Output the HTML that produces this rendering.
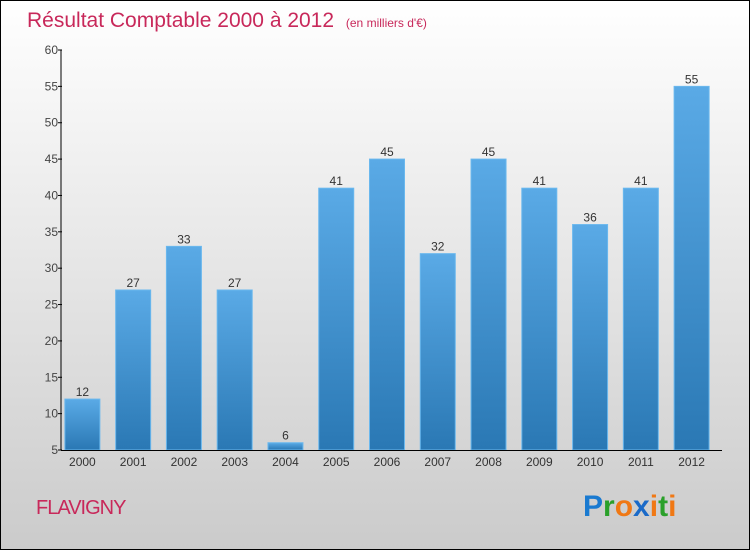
<!DOCTYPE html>
<html><head><meta charset="utf-8">
<style>
html,body{margin:0;padding:0}
body{width:750px;height:550px;overflow:hidden;font-family:"Liberation Sans",sans-serif}
</style></head>
<body>
<svg id="chart" width="750" height="550" xmlns="http://www.w3.org/2000/svg">
<defs>
<linearGradient id="bg" x1="0" y1="0" x2="0" y2="1">
<stop offset="0" stop-color="#ffffff"/><stop offset="1" stop-color="#cbcbcb"/>
</linearGradient>
<linearGradient id="bar" x1="0" y1="0" x2="0" y2="1">
<stop offset="0" stop-color="#5aaae6"/><stop offset="1" stop-color="#2a78b4"/>
</linearGradient>
</defs>
<rect x="0.5" y="0.5" width="749" height="549" fill="url(#bg)" stroke="#000" stroke-width="1"/>
<text x="27" y="27" font-size="21" fill="#c8285a">Résultat Comptable 2000 à 2012 <tspan font-size="12" dx="6">(en milliers d'€)</tspan></text>
<g id="yaxis"></g>
<g id="bars"></g>
<g id="xaxis"></g>
<text x="36" y="514" font-size="20" fill="#c8285a" letter-spacing="-1">FLAVIGNY</text>
<g font-size="30" font-weight="bold" font-family="Liberation Sans, sans-serif">
<text x="583" y="516"><tspan fill="#1a7ad0">P</tspan><tspan fill="#2aa02a">r</tspan><tspan fill="#f07814">o</tspan><tspan fill="#1a6ac8">x</tspan><tspan fill="#f07814">i</tspan><tspan fill="#2aa02a">t</tspan><tspan fill="#f07814">i</tspan></text>
</g>
</svg>
<script>
const categories=["2000","2001","2002","2003","2004","2005","2006","2007","2008","2009","2010","2011","2012"];
const values=[12,27,33,27,6,41,45,32,45,41,36,41,55];
const yTicks=[5,10,15,20,25,30,35,40,45,50,55,60];
const NS="http://www.w3.org/2000/svg";
const x0=62,x1=722,yBase=450,yTop=50,vMin=5,vMax=60;
function y(v){return yBase-(v-vMin)/(vMax-vMin)*(yBase-yTop);}
const step=(x1-x0)/categories.length;
function xc(i){return x0+step*(i+0.5)-5;}
function mk(tag,attrs,parent){const e=document.createElementNS(NS,tag);for(const k in attrs)e.setAttribute(k,attrs[k]);parent.appendChild(e);return e;}
const ya=document.getElementById('yaxis'),ba=document.getElementById('bars'),xa=document.getElementById('xaxis');
const yl=mk('line',{x1:x0-1,y1:yTop,x2:x0-1,y2:yBase,stroke:'#000','stroke-width':1},ya);


yTicks.forEach(t=>{
 const tk=mk('line',{x1:x0-4,y1:y(t),x2:x0,y2:y(t),stroke:'#000'},ya);
 
 
 const tl=mk('text',{x:x0-4,y:y(t)+4,'text-anchor':'end','font-size':12,fill:'#444'},ya);
 
 
 tl.textContent=t;
});
const xl=mk('line',{x1:x0-1,y1:yBase+0.5,x2:x1,y2:yBase+0.5,stroke:'#000','stroke-width':1},xa);


const bw=35;
categories.forEach((c,i)=>{
 const cx=xc(i),v=values[i];
 const r=mk('rect',{x:cx-bw/2,y:y(v),width:bw,height:yBase-y(v),fill:'url(#bar)',stroke:'#6ab8ee','stroke-width':1},ba);
 
 
 const vl=mk('text',{x:cx,y:y(v)-3,'text-anchor':'middle','font-size':12,fill:'#333'},ba);
 
 
 vl.textContent=v;
 const xt=mk('text',{x:cx,y:yBase+16,'text-anchor':'middle','font-size':12,fill:'#333'},xa);
 
 
 xt.textContent=c;
});
</script>
</body></html>
